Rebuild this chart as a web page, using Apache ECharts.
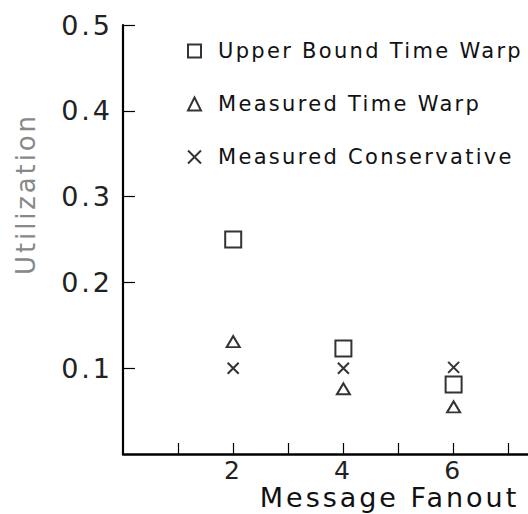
<!DOCTYPE html>
<html>
<head>
<meta charset="utf-8">
<script src="https://cdn.jsdelivr.net/npm/echarts@6/dist/echarts.min.js"></script>
<style>
html,body{margin:0;padding:0;background:#fff;}
#c{width:528px;height:514px;}
#c svg text{letter-spacing:0.11em;}
</style>
</head>
<body>
<div id="c"></div>
<script>
var fanout = [2, 4, 6];
var upperBoundTW = [0.25, 0.123, 0.081];
var measuredTW = [0.131, 0.076, 0.055];
var measuredCons = [0.100, 0.100, 0.101];
var seriesNames = ['Upper Bound Time Warp', 'Measured Time Warp', 'Measured Conservative'];
var xTickLabels = ['2', '4', '6'];
var yTickLabels = ['0.1', '0.2', '0.3', '0.4', '0.5'];

function pairs(xs, ys) { return xs.map(function (x, i) { return [x, ys[i]]; }); }

var crossPath = 'path://M0,0L10,10M0,10L10,0';
var markStyle = { color: 'transparent', borderColor: '#000', borderWidth: 2 };
var font = 'DejaVu Sans';

var chart = echarts.init(document.getElementById('c'), null, { renderer: 'svg' });
chart.setOption({
  animation: false,
  backgroundColor: '#fff',
  grid: { left: 123, top: 25, right: 0, bottom: 60, containLabel: false, outerBoundsMode: 'none' },
  legend: {
    orient: 'vertical',
    left: 187,
    top: 40,
    padding: 0,
    itemWidth: 13,
    itemHeight: 13,
    itemGap: 31,
    textStyle: { fontFamily: font, fontSize: 21, color: '#111', padding: [0, 0, 0, 12], lineHeight: 22 },
    data: [
      { name: seriesNames[0], icon: 'rect', itemStyle: markStyle },
      { name: seriesNames[1], icon: 'triangle', itemStyle: markStyle },
      { name: seriesNames[2], icon: crossPath, itemStyle: markStyle }
    ]
  },
  xAxis: {
    type: 'value',
    min: 0,
    max: 7.35,
    interval: 1,
    name: 'Message Fanout',
    nameLocation: 'middle',
    nameGap: 31,
    nameMoveOverlap: false,
    nameTextStyle: { fontFamily: font, fontSize: 27, lineHeight: 24, color: '#111', padding: [0, 0, 0, 128] },
    axisLine: { lineStyle: { color: '#000', width: 2.5 } },
    axisTick: { inside: true, length: 11, lineStyle: { color: '#000', width: 1.2 } },
    splitLine: { show: false },
    axisLabel: {
      fontFamily: font, fontSize: 25, lineHeight: 20, color: '#222', margin: 6,
      showMinLabel: false, showMaxLabel: false,
      formatter: function (v) { var s = String(v); return xTickLabels.indexOf(s) >= 0 ? s : ''; }
    }
  },
  yAxis: {
    type: 'value',
    min: 0,
    max: 0.5,
    interval: 0.1,
    name: 'Utilization',
    nameLocation: 'middle',
    nameRotate: 90,
    nameGap: 84,
    nameMoveOverlap: false,
    nameTextStyle: { fontFamily: font, fontSize: 26, color: '#888', padding: [0, 0, 0, 91] },
    axisLine: { lineStyle: { color: '#000', width: 2.2 } },
    axisTick: { inside: true, length: 12, lineStyle: { color: '#000', width: 1.2 } },
    splitLine: { show: false },
    axisLabel: {
      fontFamily: font, fontSize: 27, color: '#222', margin: 10,
      showMinLabel: false,
      formatter: function (v) { var s = v.toFixed(1); return yTickLabels.indexOf(s) >= 0 ? s : ''; }
    }
  },
  series: [
    { name: seriesNames[0], type: 'scatter', symbol: 'rect', symbolSize: 16, itemStyle: markStyle, data: pairs(fanout, upperBoundTW) },
    { name: seriesNames[1], type: 'scatter', symbol: 'triangle', symbolSize: [13, 11], itemStyle: markStyle, data: pairs(fanout, measuredTW) },
    { name: seriesNames[2], type: 'scatter', symbol: crossPath, symbolSize: 11, itemStyle: markStyle, data: pairs(fanout, measuredCons) }
  ]
});
</script>
</body>
</html>
